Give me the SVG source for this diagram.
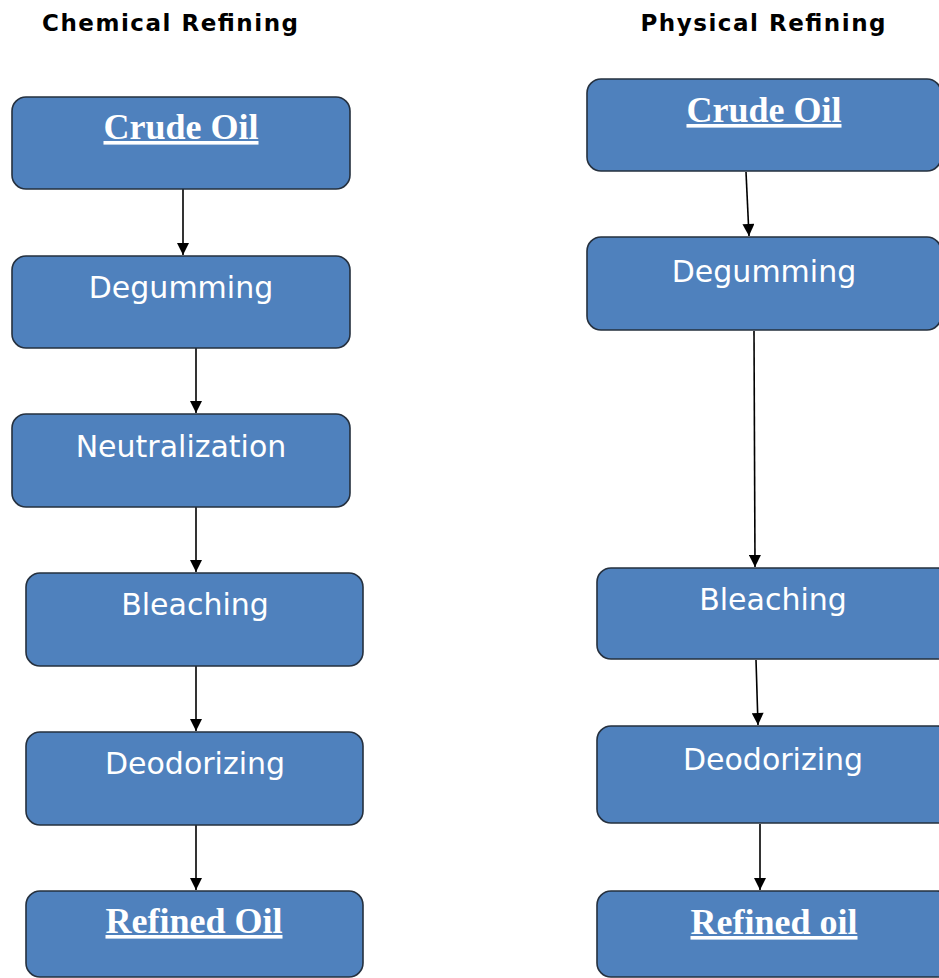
<svg xmlns="http://www.w3.org/2000/svg" width="939" height="978" viewBox="0 0 939 978">
<style>
.title{font-family:"DejaVu Sans","Liberation Sans",sans-serif;font-weight:bold;font-size:23px;fill:#000;text-anchor:middle}
.box{fill:#4F81BD;stroke:#25303E;stroke-width:1.6}
.lbl{font-family:"DejaVu Sans","Liberation Sans",sans-serif;font-size:30px;fill:#fff;text-anchor:middle}
.hl{font-family:"Liberation Serif","DejaVu Serif",serif;font-weight:bold;font-size:36px;fill:#fff;text-anchor:middle;text-decoration:underline}
.conn{stroke:#000;stroke-width:1.6;fill:none;marker-end:url(#ah)}
</style>
<defs>
<marker id="ah" viewBox="0 0 12 12" refX="12" refY="6" markerWidth="13" markerHeight="12" markerUnits="userSpaceOnUse" orient="auto">
<path d="M0,0 L12,6 L0,12 Z" fill="#000"/>
</marker>
</defs>
<rect width="939" height="978" fill="#fff"/>
<text class="title" x="170" y="31" textLength="256" lengthAdjust="spacing">Chemical Refining</text>
<text class="title" x="763" y="31" textLength="245" lengthAdjust="spacing">Physical Refining</text>

<g id="connectors">
<line class="conn" x1="183" y1="189" x2="183" y2="255"/>
<line class="conn" x1="196" y1="348" x2="196" y2="413"/>
<line class="conn" x1="196" y1="507" x2="196" y2="572"/>
<line class="conn" x1="196" y1="666" x2="196" y2="731"/>
<line class="conn" x1="196" y1="825" x2="196" y2="890"/>
<line class="conn" x1="746" y1="172" x2="749" y2="236"/>
<line class="conn" x1="754" y1="331" x2="755" y2="567"/>
<line class="conn" x1="756" y1="660" x2="758" y2="725"/>
<line class="conn" x1="760" y1="824" x2="760" y2="890"/>
</g>

<g id="c-crude"><rect class="box" x="12" y="97" width="338" height="92" rx="14"/><text class="hl" x="181" y="139">Crude Oil</text></g>
<g id="c-degum"><rect class="box" x="12" y="256" width="338" height="92" rx="14"/><text class="lbl" x="181" y="298">Degumming</text></g>
<g id="c-neutral"><rect class="box" x="12" y="414" width="338" height="93" rx="14"/><text class="lbl" x="181" y="457">Neutralization</text></g>
<g id="c-bleach"><rect class="box" x="26" y="573" width="337" height="93" rx="14"/><text class="lbl" x="195" y="615">Bleaching</text></g>
<g id="c-deodor"><rect class="box" x="26" y="732" width="337" height="93" rx="14"/><text class="lbl" x="195" y="774">Deodorizing</text></g>
<g id="c-refined"><rect class="box" x="26" y="891" width="337" height="86" rx="14"/><text class="hl" x="194" y="933">Refined Oil</text></g>

<g id="p-crude"><rect class="box" x="587" y="79" width="354" height="92" rx="14"/><text class="hl" x="764" y="122">Crude Oil</text></g>
<g id="p-degum"><rect class="box" x="587" y="237" width="354" height="93" rx="14"/><text class="lbl" x="764" y="282">Degumming</text></g>
<g id="p-bleach"><rect class="box" x="597" y="568" width="354" height="91" rx="14"/><text class="lbl" x="773" y="610">Bleaching</text></g>
<g id="p-deodor"><rect class="box" x="597" y="726" width="354" height="97" rx="14"/><text class="lbl" x="773" y="770">Deodorizing</text></g>
<g id="p-refined"><rect class="box" x="597" y="891" width="354" height="86" rx="14"/><text class="hl" x="774" y="934">Refined oil</text></g>
</svg>
